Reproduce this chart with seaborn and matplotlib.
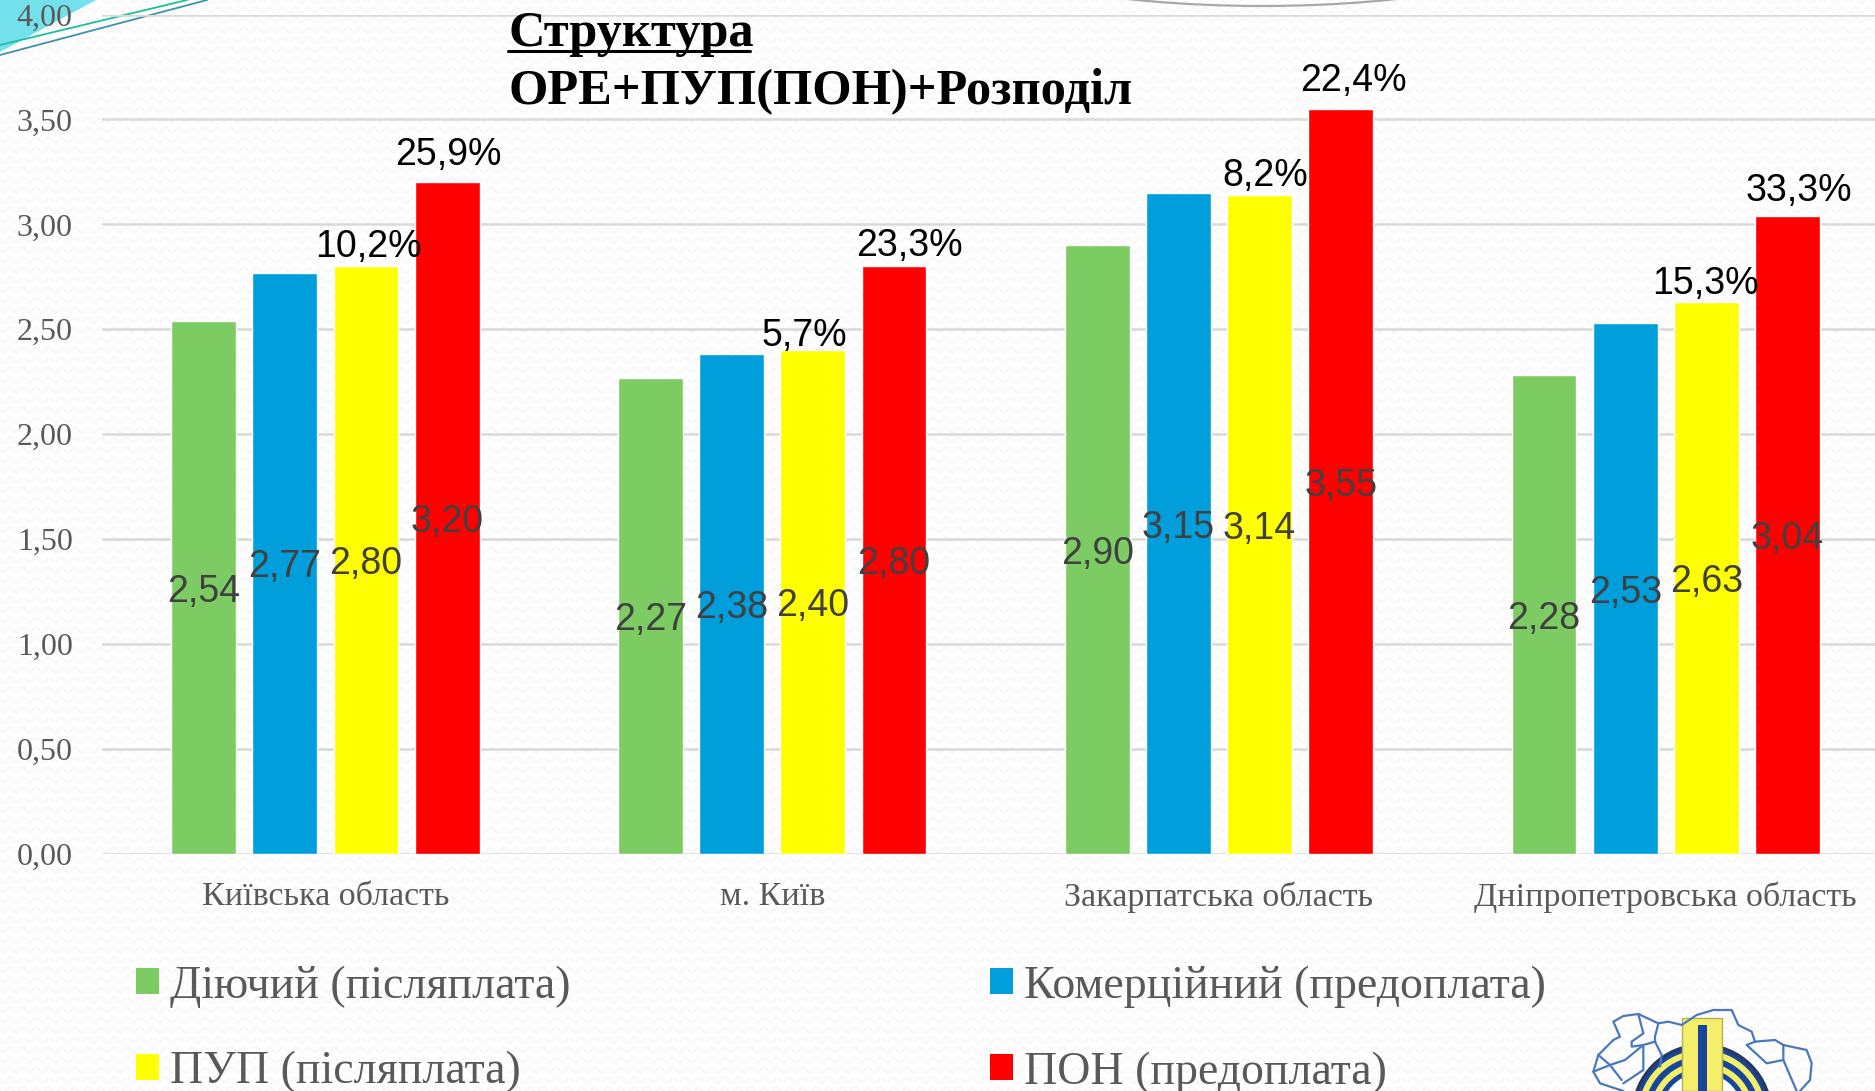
import numpy as np
import pandas as pd
import seaborn as sns
import matplotlib
matplotlib.use("Agg")
import matplotlib.pyplot as plt
from matplotlib.lines import Line2D
from matplotlib.patches import Polygon, Circle, Rectangle, Arc

# ---------- data ----------
regions = ["Київська область", "м. Київ", "Закарпатська область", "Дніпропетровська область"]
series = ["Діючий (післяплата)", "ПУП (післяплата)", "Комерційний (предоплата)", "ПОН (предоплата)"]
diiuchyi = [2.54, 2.27, 2.90, 2.28]
komertsiinyi = [2.77, 2.38, 3.15, 2.53]
pup = [2.80, 2.40, 3.14, 2.63]
pon = [3.20, 2.80, 3.55, 3.04]
pup_pct = ["10,2%", "5,7%", "8,2%", "15,3%"]
pon_pct = ["25,9%", "23,3%", "22,4%", "33,3%"]
y_ticks = [0, 0.5, 1, 1.5, 2, 2.5, 3, 3.5, 4]
title_lines = ["Структура", "ОРЕ+ПУП(ПОН)+Розподіл"]

# ---------- label offsets (points) ----------
pup_dx = [2, -6, 4, -1]
pup_dy = [14, 10, 14, 13]
pon_dx = [1, 11, 9, 8]
pon_dy = [20, 15, 20, 18]

# ---------- style ----------
W, H = 1875, 1091
BG = "#ffffff"
SANS = "Liberation Sans"
SERIF = "Liberation Serif"
colors = {series[0]: "#7ccb63", series[1]: "#ffff00", series[2]: "#009fdb", series[3]: "#ff0000"}

sns.set_theme(style="white")
plt.rcParams["font.family"] = [SERIF, "DejaVu Serif"]

fig = plt.figure(figsize=(W / 100, H / 100), dpi=100, facecolor=BG)

# ---------- slide decoration (behind the chart) ----------
deco = fig.add_axes([0, 0, 1, 1], zorder=-1)
deco.set_xlim(0, W)
deco.set_ylim(H, 0)
deco.axis("off")
# faint wavy slide texture
wave_x = np.arange(0, W + 1, 1.0)
for row in range(0, H + 10, 10):
    deco.plot(wave_x, row + 2.5 * np.sin(wave_x * 2 * np.pi / 13), color="#f6f6f6", lw=1.2, zorder=0)
deco.add_patch(Polygon([(0, 0), (96, 0), (0, 52)], closed=True, fc="#74e0ec", ec="none", zorder=1))
deco.plot([0, 187], [45, 0], color="#1abf9f", lw=1.3, zorder=2)
deco.plot([0, 207], [55, 0], color="#3f8fb0", lw=1.3, zorder=2)
deco.add_patch(Arc((1262, -54), 574, 120, theta1=0, theta2=180, color="#a8a8a8", lw=1.6, zorder=2))

# ---------- chart ----------
ax = fig.add_axes([102 / W, 1 - 854 / H, (W - 102) / W, (854 - 14.5) / H], zorder=1)
ax.patch.set_alpha(0)

df = pd.DataFrame({
    "region": np.tile(regions, 4),
    "series": np.repeat(series, 4),
    "value": diiuchyi + pup + komertsiinyi + pon,
})
hue_draw_order = [series[0], series[2], series[1], series[3]]
sns.barplot(data=df, x="region", y="value", hue="series", order=regions,
            hue_order=hue_draw_order, palette=colors, width=0.727, gap=0.2,
            saturation=1, errorbar=None, ax=ax, legend=False, zorder=2)

ax.set_xlim(-0.5, -0.5 + (W - 102) / 446.8)
ax.set_ylim(0, 4)
ax.set_xlabel("")
ax.set_ylabel("")
ax.set_yticks(y_ticks)
ax.set_yticklabels([f"{t:.2f}".replace(".", ",") for t in y_ticks], fontsize=23, color="#595959")
ax.tick_params(axis="x", length=0, pad=20, labelsize=24.5, labelcolor="#595959")
ax.tick_params(axis="y", length=0, pad=21)
ax.grid(axis="y", color="#d9d9d9", lw=1.8, zorder=0)
ax.set_axisbelow(True)
for s in ax.spines.values():
    s.set_visible(False)

value_sets = [diiuchyi, komertsiinyi, pup, pon]
for cont, vals in zip(ax.containers, value_sets):
    texts = ax.bar_label(cont, labels=[f"{v:.2f}".replace(".", ",") for v in vals], label_type="center",
                         fontsize=27, family=SANS, color="#404040", zorder=5)
    for t in texts:
        t.xyann = (0, -3)

for cont, labels, dxs, dys in [(ax.containers[2], pup_pct, pup_dx, pup_dy),
                               (ax.containers[3], pon_pct, pon_dx, pon_dy)]:
    for bar, lab, dx, dy in zip(cont, labels, dxs, dys):
        ax.annotate(lab, (bar.get_x() + bar.get_width() / 2, bar.get_height()),
                    xytext=(dx, dy), textcoords="offset points", ha="center", va="center",
                    fontsize=27, family=SANS, color="black", zorder=6, annotation_clip=False)

# ---------- legend ----------
handles = [Rectangle((0, 0), 1, 1, fc=colors[s], ec="none") for s in series]
leg = fig.legend(handles, series, ncol=2, loc="upper left", bbox_to_anchor=(136 / W, 1 - 965 / H),
                 bbox_transform=fig.transFigure, frameon=False, fontsize=33, labelcolor="#595959",
                 handlelength=0.5, handleheight=0.5, handletextpad=0.24,
                 labelspacing=0.95, columnspacing=9.15, borderaxespad=0, borderpad=0)

# ---------- title ----------
fig.text(508 / W, 1 - 46 / H, title_lines[0], fontsize=36.4, fontweight="bold", color="black", va="baseline")
fig.text(508 / W, 1 - 103 / H, title_lines[1], fontsize=36.4, fontweight="bold", color="black", va="baseline")
fig.add_artist(Line2D([508 / W, 750 / W], [1 - 51 / H, 1 - 51 / H], color="black", lw=2.2))

# ---------- logo ----------
logo = fig.add_axes([0, 0, 1, 1], zorder=3)
logo.set_xlim(0, W)
logo.set_ylim(H, 0)
logo.axis("off")
cx, cy = 1702, 1114
def zp(pts):
    return [1580 + p[0] / 3 for p in pts], [1000 + p[1] / 3 for p in pts]
map_lines = [
    [(130, 273), (60, 250), (40, 215), (55, 165), (100, 120), (120, 110), (100, 65), (130, 48), (175, 42),
     (235, 70), (265, 65), (305, 75), (350, 45), (400, 30), (455, 30), (475, 75), (515, 95), (525, 125),
     (585, 120), (610, 135), (680, 150), (695, 190), (690, 240), (660, 273)],
    [(175, 42), (190, 100), (155, 125), (155, 140), (190, 135), (225, 125), (245, 165), (240, 200)],
    [(235, 70), (225, 110), (225, 125)],
    [(55, 165), (90, 195), (135, 180), (190, 135), (190, 210), (130, 250)],
    [(40, 215), (90, 195), (125, 240)],
    [(525, 125), (500, 135), (560, 190), (610, 180), (610, 135)],
    [(610, 180), (650, 273)],
]
for seg in map_lines:
    logo.plot(*zp(seg), color="#4a78bd", lw=1.6)
for r, col in [(70.6, "#2a3560"), (67.5, "#16469c"), (64, "#f5ee6a"), (58, "#16469c"),
                (52, "#f5ee6a"), (46, "#16469c"), (41, BG)]:
    logo.add_patch(Circle((cx, cy), r, fc=col, ec="none"))
logo.add_patch(Rectangle((1682, 1018), 40, 73, fc="#f5ee6a", ec="#b8b050", lw=1))
logo.add_patch(Rectangle((1697.5, 1025), 9.5, 66, fc="#16469c", ec="none"))

fig.savefig("out.png", dpi=100, facecolor=BG)
